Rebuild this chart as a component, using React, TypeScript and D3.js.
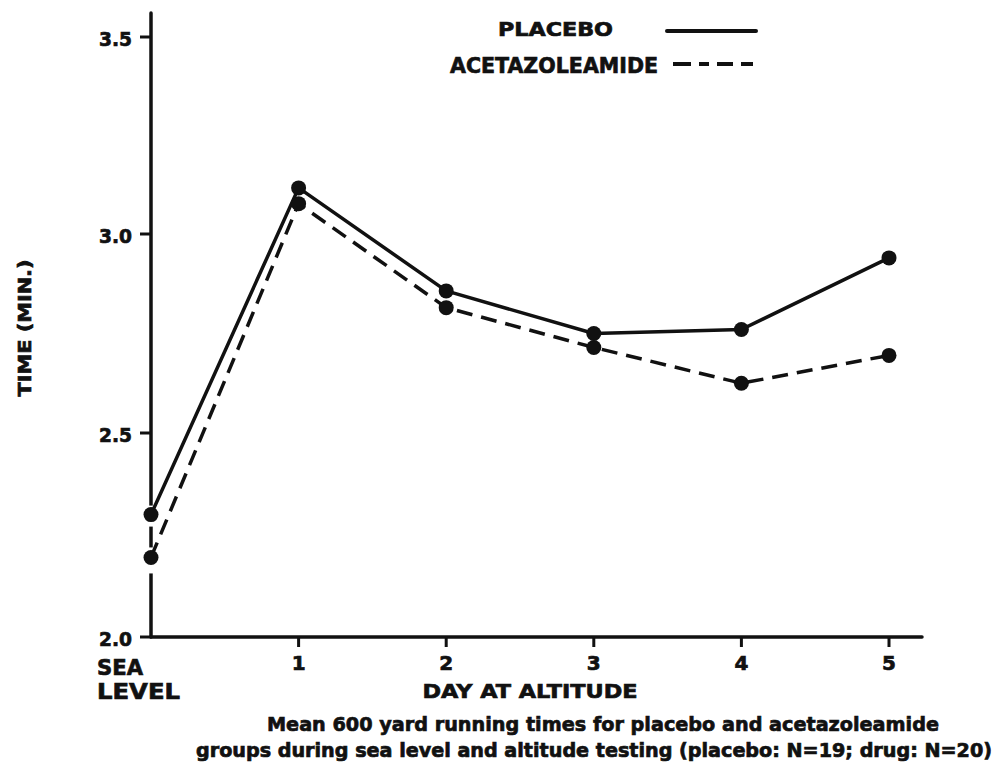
import React from 'react';
import * as d3 from 'd3';

const categories = ['SEA LEVEL', '1', '2', '3', '4', '5'];
const placebo = [2.3, 3.117, 2.857, 2.75, 2.76, 2.94];
const acetazoleamide = [2.195, 3.077, 2.815, 2.715, 2.625, 2.695];
const yTicks = [2.0, 2.5, 3.0, 3.5];
const yTickLabels = ['2.0', '2.5', '3.0', '3.5'];
const xTickLabels = ['', '1', '2', '3', '4', '5'];

const W = 1001;
const H = 767;
const FONT = '"DejaVu Sans", "Liberation Sans", sans-serif';
const INK = '#111';
const TS = { stroke: INK, strokeWidth: 0.7 };

export default function App() {
  const x = d3.scalePoint<string>().domain(categories).range([151, 889]);
  const y = d3.scaleLinear().domain([2, 2.5, 3, 3.5]).range([637, 433, 234, 37]);
  const line = d3
    .line<number>()
    .x((_, i) => x(categories[i]) as number)
    .y((d) => y(d));

  const x0 = x(categories[0]) as number;
  const axisY = y(2);

  return (
    <svg
      width={W}
      height={H}
      viewBox={`0 0 ${W} ${H}`}
      style={{ position: 'absolute', left: 0, top: 0, background: '#fff' }}
    >
      <rect x={0} y={0} width={W} height={H} fill="#fff" />
      {/* y axis */}
      <line x1={x0} y1={13} x2={x0} y2={axisY} stroke={INK} strokeWidth={3.5} strokeLinecap="round" />
      {/* x axis */}
      <line x1={x0} y1={axisY} x2={922} y2={axisY} stroke={INK} strokeWidth={3.5} strokeLinecap="round" />
      {/* gaps in y axis around sea-level points */}
      <line x1={x0} y1={y(placebo[0]) - 9} x2={x0} y2={y(placebo[0]) + 12} stroke="#fff" strokeWidth={5} />
      <line
        x1={x0}
        y1={y(acetazoleamide[0]) - 10}
        x2={x0}
        y2={y(acetazoleamide[0]) + 16}
        stroke="#fff"
        strokeWidth={5}
      />
      {/* y ticks */}
      {yTicks.map((t, i) => (
        <g key={'yt' + i}>
          <line x1={x0 - 11} y1={y(t)} x2={x0} y2={y(t)} stroke={INK} strokeWidth={3} />
          <text
            x={132}
            y={y(t) + 9}
            textAnchor="end"
            fontFamily={FONT}
            fontWeight="bold"
            fontSize={20}
            fill={INK}
            {...TS}
            textLength={33}
            lengthAdjust="spacingAndGlyphs"
          >
            {yTickLabels[i]}
          </text>
        </g>
      ))}
      {/* x ticks */}
      {categories.map((c, i) =>
        i === 0 ? null : (
          <g key={'xt' + i}>
            <line x1={x(c) as number} y1={axisY} x2={x(c) as number} y2={axisY + 10} stroke={INK} strokeWidth={3} />
            <text
              x={x(c) as number}
              y={670}
              textAnchor="middle"
              fontFamily={FONT}
              fontWeight="bold"
              fontSize={20}
              fill={INK}
              {...TS}
            >
              {xTickLabels[i]}
            </text>
          </g>
        )
      )}
      <text x={97} y={675} fontFamily={FONT} fontWeight="bold" fontSize={22} fill={INK} {...TS} textLength={46} lengthAdjust="spacingAndGlyphs">
        SEA
      </text>
      <text x={97} y={699} fontFamily={FONT} fontWeight="bold" fontSize={22} fill={INK} {...TS} textLength={83} lengthAdjust="spacingAndGlyphs">
        LEVEL
      </text>
      <text
        x={530}
        y={698}
        textAnchor="middle"
        fontFamily={FONT}
        fontWeight="bold"
        fontSize={20}
        fill={INK}
        {...TS}
        textLength={215}
        lengthAdjust="spacingAndGlyphs"
      >
        DAY AT ALTITUDE
      </text>
      {/* y label */}
      <text
        transform="translate(31,328) rotate(-90)"
        textAnchor="middle"
        fontFamily={FONT}
        fontWeight="bold"
        fontSize={18}
        fill={INK}
        {...TS}
        textLength={137}
        lengthAdjust="spacingAndGlyphs"
      >
        TIME (MIN.)
      </text>
      {/* caption */}
      <text
        x={603}
        y={731}
        textAnchor="middle"
        fontFamily={FONT}
        fontWeight="bold"
        fontSize={20}
        fill={INK}
        {...TS}
        textLength={672}
        lengthAdjust="spacingAndGlyphs"
      >
        Mean 600 yard running times for placebo and acetazoleamide
      </text>
      <text
        x={594}
        y={757}
        textAnchor="middle"
        fontFamily={FONT}
        fontWeight="bold"
        fontSize={19}
        fill={INK}
        {...TS}
        textLength={796}
        lengthAdjust="spacingAndGlyphs"
      >
        groups during sea level and altitude testing (placebo: N=19; drug: N=20)
      </text>
      {/* data lines */}
      <path d={line(placebo) || ''} fill="none" stroke={INK} strokeWidth={3.5} strokeLinejoin="round" />
      <path d={line(acetazoleamide) || ''} fill="none" stroke={INK} strokeWidth={3.5} strokeDasharray="16 9" />
      {placebo.map((v, i) => (
        <circle key={'p' + i} cx={x(categories[i]) as number} cy={y(v)} r={7.5} fill={INK} />
      ))}
      {acetazoleamide.map((v, i) => (
        <circle key={'a' + i} cx={x(categories[i]) as number} cy={y(v)} r={7.5} fill={INK} />
      ))}
      {/* legend */}
      <text x={498} y={36} fontFamily={FONT} fontWeight="bold" fontSize={20} fill={INK} {...TS} textLength={115} lengthAdjust="spacingAndGlyphs">
        PLACEBO
      </text>
      <line x1={667} y1={31} x2={756} y2={31} stroke={INK} strokeWidth={4} strokeLinecap="round" />
      <text x={450} y={73} fontFamily={FONT} fontWeight="bold" fontSize={22} fill={INK} {...TS} textLength={208} lengthAdjust="spacingAndGlyphs">
        ACETAZOLEAMIDE
      </text>
      <line x1={673} y1={64} x2={753} y2={64} stroke={INK} strokeWidth={4} strokeDasharray="18 8 10 8 16 8 14" />
    </svg>
  );
}
